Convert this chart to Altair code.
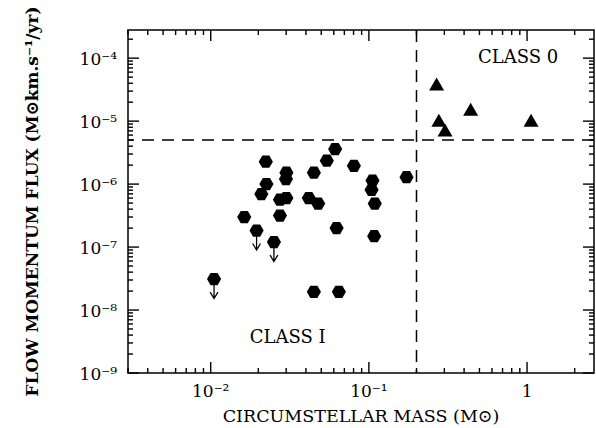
import altair as alt
import pandas as pd

# ---------------- data ----------------
# Class I sources (filled hexagons); first three are upper limits
mass_I = [0.0105, 0.0195, 0.0251, 0.0163, 0.0223, 0.0225, 0.0209, 0.0301, 0.0299,
          0.0274, 0.0301, 0.0274, 0.0449, 0.0417, 0.0478, 0.0542, 0.0612, 0.0804,
          0.0625, 0.0449, 0.0646, 0.1054, 0.104, 0.109, 0.108, 0.173]
flux_I = [3.1e-8, 1.83e-7, 1.2e-7, 3.0e-7, 2.27e-6, 1.0e-6, 6.95e-7, 1.52e-6, 1.2e-6,
          5.65e-7, 6.0e-7, 3.16e-7, 1.52e-6, 6.0e-7, 4.9e-7, 2.35e-6, 3.6e-6, 1.95e-6,
          2.0e-7, 1.95e-8, 1.95e-8, 1.14e-6, 8.1e-7, 4.9e-7, 1.49e-7, 1.29e-6]
upper_I = [True, True, True, False, False, False, False, False, False,
           False, False, False, False, False, False, False, False, False,
           False, False, False, False, False, False, False, False]

# Class 0 sources (filled triangles)
mass_0 = [0.268, 0.277, 0.303, 0.44, 1.06]
flux_0 = [3.9e-5, 1.03e-5, 7.2e-6, 1.54e-5, 1.03e-5]

# dividing lines
mass_cut = 0.2
flux_cut = 5e-6

# annotations
ann_text = ["CLASS 0", "CLASS I"]
ann_x = [0.877, 0.0307]
ann_y = [1.0e-4, 3.66e-9]

# axes
x_title = "CIRCUMSTELLAR MASS (M⊙)"
y_title = "FLOW MOMENTUM FLUX (M⊙km.s⁻¹/yr)"
x_domain = [3e-3, 2.65]
y_domain = [1e-9, 2.8e-4]
x_major = [0.01, 0.1, 1]
x_major_labels = ["10⁻²", "10⁻¹", "1"]
x_minor_all = [m * 10.0 ** e for e in (-3, -2, -1, 0) for m in range(2, 10)]
y_major = [1e-9, 1e-8, 1e-7, 1e-6, 1e-5, 1e-4]
y_major_labels = ["10⁻⁹", "10⁻⁸", "10⁻⁷", "10⁻⁶", "10⁻⁵", "10⁻⁴"]
y_minor_all = [m * 10.0 ** e for e in (-9, -8, -7, -6, -5, -4) for m in range(2, 10)]

W, H = 466, 343
FONT = "DejaVu Serif"
MAJ, MIN = 11, 5

x_minor = [v for v in x_minor_all if x_domain[0] <= v <= x_domain[1]]
y_minor = [v for v in y_minor_all if y_domain[0] <= v <= y_domain[1]]

xs = alt.Scale(type="log", domain=x_domain, nice=False)
ys = alt.Scale(type="log", domain=y_domain, nice=False)

df_I = pd.DataFrame({"mass": mass_I, "flux": flux_I, "upper": upper_I})
df_0 = pd.DataFrame({"mass": mass_0, "flux": flux_0})
df_ann = pd.DataFrame({"text": ann_text, "x": ann_x, "y": ann_y})
df_xlab = pd.DataFrame({"v": x_major, "t": x_major_labels})
df_ylab = pd.DataFrame({"v": y_major, "t": y_major_labels})

HEX = "M-1,0L-0.5,-0.866L0.5,-0.866L1,0L0.5,0.866L-0.5,0.866Z"
ARROW = "M0,0L0,3.0M-0.6,2.0L0,3.0L0.6,2.0"

layers = []

# dividing lines
layers.append(alt.Chart().mark_rule(color="black", strokeWidth=1.5, strokeDash=[12, 8]).encode(
    x=alt.X(datum=mass_cut, scale=xs, axis=None)))
layers.append(alt.Chart().mark_rule(color="black", strokeWidth=1.5, strokeDash=[12, 8]).encode(
    y=alt.Y(datum=flux_cut, scale=ys, axis=None)))

# inward-pointing ticks on all four edges (positions from the tick lists through the scales)
for vals, L in ((x_major, MAJ), (x_minor, MIN)):
    dfx = pd.DataFrame({"v": vals})
    for y0, y1 in ((0, L), (H, H - L)):
        layers.append(alt.Chart(dfx).mark_rule(color="black", strokeWidth=1.4).encode(
            x=alt.X("v:Q", scale=xs, axis=None), y=alt.value(y0), y2=alt.value(y1)))
for vals, L in ((y_major, MAJ), (y_minor, MIN)):
    dfy = pd.DataFrame({"v": vals})
    for x0, x1 in ((0, L), (W, W - L)):
        layers.append(alt.Chart(dfy).mark_rule(color="black", strokeWidth=1.4).encode(
            y=alt.Y("v:Q", scale=ys, axis=None), x=alt.value(x0), x2=alt.value(x1)))

# tick labels (placed at the tick values through the scales)
layers.append(alt.Chart(df_xlab).mark_text(font=FONT, fontSize=17, color="black",
                                           align="center", baseline="alphabetic").encode(
    x=alt.X("v:Q", scale=xs, axis=None), y=alt.value(H + 24), text="t:N"))
layers.append(alt.Chart(df_ylab).mark_text(font=FONT, fontSize=17, color="black",
                                           align="right", baseline="middle", dy=2).encode(
    y=alt.Y("v:Q", scale=ys, axis=None), x=alt.value(-11), text="t:N"))

# axis titles
layers.append(alt.Chart(pd.DataFrame({"t": [x_title]})).mark_text(
    font=FONT, fontSize=17.5, color="black", align="center", baseline="alphabetic").encode(
    x=alt.value(W / 2), y=alt.value(H + 49), text="t:N"))
layers.append(alt.Chart(pd.DataFrame({"t": [y_title]})).mark_text(
    font=FONT, fontSize=17, fontWeight="bold", color="black", align="center",
    baseline="alphabetic", angle=270).encode(
    x=alt.value(-90), y=alt.value(H / 2), text="t:N"))

# upper-limit arrows
layers.append(alt.Chart(df_I).transform_filter("datum.upper").mark_point(
    shape=ARROW, size=169, filled=False, stroke="black", strokeWidth=1.3, opacity=1
).encode(
    x=alt.X("mass:Q", scale=xs, axis=None),
    y=alt.Y("flux:Q", scale=ys, axis=None),
))

# class I hexagons
layers.append(alt.Chart(df_I).mark_point(
    shape=HEX, size=200, filled=True, color="black", opacity=1
).encode(
    x=alt.X("mass:Q", scale=xs, axis=None),
    y=alt.Y("flux:Q", scale=ys, axis=None),
))

# class 0 triangles
layers.append(alt.Chart(df_0).mark_point(
    shape="triangle-up", size=225, filled=True, color="black", opacity=1
).encode(
    x=alt.X("mass:Q", scale=xs, axis=None),
    y=alt.Y("flux:Q", scale=ys, axis=None),
))

# annotations
layers.append(alt.Chart(df_ann).mark_text(font=FONT, fontSize=18, color="black",
                                          align="center", baseline="middle").encode(
    x=alt.X("x:Q", scale=xs, axis=None),
    y=alt.Y("y:Q", scale=ys, axis=None),
    text="text:N",
))

chart = alt.layer(*layers).properties(
    width=W, height=H, autosize="none",
    padding={"left": 128, "top": 30, "right": 2, "bottom": 55},
    background="white",
).configure_view(stroke="black", strokeWidth=1.5)

chart.save("out.html", embed_options={"renderer": "svg", "actions": False})
